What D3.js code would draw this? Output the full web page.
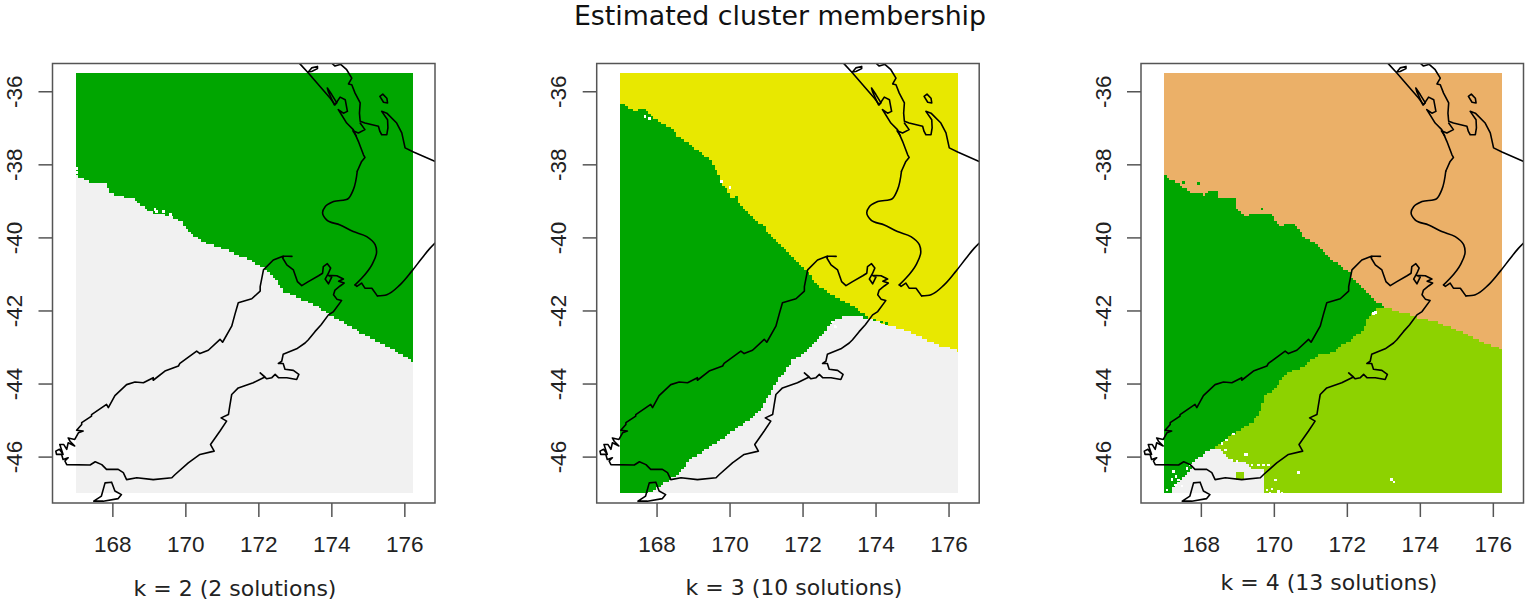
<!DOCTYPE html>
<html><head><meta charset="utf-8">
<script src="https://cdn.jsdelivr.net/npm/d3@7"></script>
<style>html,body{margin:0;padding:0;background:#fff;overflow:hidden}svg{display:block}</style>
</head><body><svg id="c" width="1535" height="610"></svg>
<script>
// ---------- text ----------
const chartTitle = "Estimated cluster membership";
const panelLabels = ["k = 2 (2 solutions)", "k = 3 (10 solutions)", "k = 4 (13 solutions)"];
const lonTicks = [168, 170, 172, 174, 176];
const latTicks = [-36, -38, -40, -42, -44, -46];

// ---------- coastline (lon, lat) ----------
const coastNorthWest = [[173.05,-35.15],[173.14,-35.25],[173.37,-35.50],[173.69,-35.87],[173.97,-36.19],[174.10,-36.37],[174.24,-36.16],[174.38,-36.23],[174.44,-36.55],[174.33,-36.60],[174.19,-36.50],[174.42,-36.87],[174.60,-37.05],[174.74,-37.37],[174.88,-37.74],[174.92,-37.81],[174.83,-37.92],[174.71,-38.19]];
const coastTaranaki = [[174.71,-38.19],[174.60,-38.70],[174.47,-38.93],[174.06,-39.02],[173.83,-39.16],[173.76,-39.32],[173.87,-39.52],[174.24,-39.66],[174.60,-39.84],[174.97,-39.98],[175.20,-40.20],[175.24,-40.39],[175.11,-40.75],[174.83,-41.12],[174.65,-41.30]];
const coastWellington = [[174.65,-41.30],[174.70,-41.34],[174.83,-41.25],[174.92,-41.39],[175.11,-41.39],[175.26,-41.60]];
const coastWairarapa = [[175.26,-41.60],[175.52,-41.57],[175.88,-41.30],[176.20,-40.93],[176.48,-40.57],[176.70,-40.30],[176.95,-40.05]];
const coastNorthEast = [[174.15,-35.10],[174.24,-35.25],[174.42,-35.41],[174.56,-35.64],[174.47,-35.80],[174.56,-35.82],[174.65,-36.05],[174.79,-36.32],[174.77,-36.60],[174.79,-36.82],[174.92,-36.87],[175.29,-36.96],[175.33,-37.10],[175.38,-37.19],[175.52,-37.19],[175.55,-37.00],[175.54,-36.78],[175.38,-36.55],[175.52,-36.60],[175.79,-36.87],[175.93,-37.14],[176.02,-37.55],[176.25,-37.66],[176.95,-37.97]];
const firthInlet = [[174.79,-36.87],[174.92,-37.05],[174.74,-37.14],[174.59,-37.08],[174.68,-37.22]];
const harbourSpike = [[173.89,-35.91],[174.01,-36.09],[174.15,-36.32],[174.08,-36.37],[173.92,-36.02],[173.89,-35.91]];
const islandNorthTip = [[173.37,-35.47],[173.46,-35.36],[173.62,-35.32],[173.62,-35.38],[173.46,-35.46],[173.37,-35.47]];
const islandBarrier = [[175.33,-36.14],[175.41,-36.08],[175.52,-36.19],[175.54,-36.32],[175.43,-36.30],[175.33,-36.14]];
const islandTopLoop = [[173.98,-35.20],[174.10,-35.31],[174.24,-35.27]];
const southIsland = [[172.92,-40.52],[172.69,-40.51],[172.67,-40.57],[172.78,-40.75],[172.96,-40.89],[173.07,-41.21],[173.19,-41.32],[173.37,-41.21],[173.65,-41.05],[173.76,-40.98],[173.78,-40.80],[173.89,-40.72],[173.98,-40.84],[173.92,-40.98],[173.83,-41.14],[173.92,-41.27],[174.01,-41.09],[173.90,-41.04],[174.15,-41.05],[174.33,-41.14],[174.20,-41.20],[174.35,-41.25],[174.24,-41.33],[174.10,-41.44],[174.06,-41.57],[174.15,-41.69],[174.28,-41.73],[174.06,-42.03],[173.92,-42.12],[173.72,-42.39],[173.55,-42.58],[173.37,-42.80],[173.28,-42.89],[173.05,-43.05],[172.68,-43.20],[172.64,-43.39],[172.55,-43.45],[172.68,-43.45],[172.73,-43.61],[172.96,-43.64],[173.11,-43.75],[173.05,-43.89],[172.78,-43.84],[172.55,-43.84],[172.46,-43.75],[172.37,-43.84],[172.23,-43.87],[172.05,-43.71],[172.18,-43.82],[171.86,-43.98],[171.45,-44.12],[171.27,-44.30],[171.22,-44.60],[171.18,-44.85],[170.98,-44.94],[171.13,-45.03],[170.95,-45.30],[170.69,-45.67],[170.79,-45.85],[170.40,-45.94],[170.08,-46.17],[169.72,-46.49],[169.63,-46.58],[169.12,-46.63],[168.67,-46.58],[168.39,-46.63],[168.30,-46.44],[168.16,-46.35],[167.84,-46.35],[167.71,-46.22],[167.53,-46.14],[167.39,-46.23],[166.75,-46.22],[166.70,-46.12],[166.79,-46.03],[166.65,-46.08],[166.61,-45.94],[166.47,-45.94],[166.45,-45.85],[166.55,-45.80],[166.65,-45.94],[166.56,-45.67],[166.67,-45.67],[166.75,-45.80],[166.79,-45.62],[166.97,-45.71],[166.84,-45.58],[166.79,-45.49],[166.97,-45.53],[167.07,-45.35],[167.20,-45.30],[167.02,-45.28],[167.16,-45.12],[167.16,-45.07],[167.43,-44.89],[167.43,-44.85],[167.84,-44.57],[167.89,-44.66],[168.07,-44.33],[168.39,-44.03],[168.62,-43.96],[168.85,-43.98],[169.12,-43.84],[169.12,-43.91],[169.44,-43.66],[169.81,-43.52],[169.85,-43.45],[170.31,-43.11],[170.40,-43.18],[170.63,-43.09],[170.95,-42.79],[171.02,-42.87],[171.27,-42.43],[171.36,-42.10],[171.45,-41.79],[171.82,-41.68],[172.05,-41.47],[172.05,-41.35],[172.14,-40.89],[172.41,-40.62],[172.69,-40.51]];
const stewartIsland = [[167.49,-47.22],[167.70,-47.08],[167.80,-46.72],[167.98,-46.70],[168.07,-46.94],[168.25,-47.04],[168.16,-47.15],[167.75,-47.22],[167.49,-47.22]];

// ---------- cluster boundaries (lon, lat) ----------
const k2Edge = [[166.9,-38.00],[167.0,-38.03],[167.03,-38.29],[167.16,-38.38],[167.32,-38.47],[167.80,-38.52],[167.95,-38.77],[168.21,-38.88],[168.53,-38.93],[168.85,-39.16],[169.12,-39.34],[169.58,-39.40],[169.90,-39.57],[170.08,-39.80],[170.40,-40.07],[170.86,-40.27],[171.13,-40.34],[171.41,-40.48],[171.68,-40.57],[172.14,-40.84],[172.41,-41.07],[172.68,-41.48],[173.14,-41.67],[173.60,-41.89],[174.05,-42.17],[174.60,-42.49],[175.06,-42.75],[175.70,-43.07],[176.4,-43.50]];
const k3NorthEdge = [[166.9,-36.27],[167.0,-36.31],[167.18,-36.42],[167.40,-36.56],[167.63,-36.47],[167.80,-36.58],[167.95,-36.74],[168.14,-36.88],[168.37,-36.97],[168.55,-37.20],[168.82,-37.38],[169.10,-37.61],[169.42,-37.83],[169.60,-38.06],[169.70,-38.34],[169.87,-38.61],[170.05,-38.97],[170.19,-38.84],[170.28,-39.11],[170.55,-39.34],[170.83,-39.61],[171.20,-39.98],[171.56,-40.39],[172.02,-40.80],[172.38,-41.26],[172.84,-41.62],[173.48,-41.94],[173.80,-42.19],[174.21,-42.35]];
const k3EastEdge = [[174.21,-42.36],[174.67,-42.49],[175.30,-42.75],[175.67,-42.93],[176.4,-43.13]];
const k3SouthEdge = [[174.21,-42.36],[173.80,-42.22],[173.39,-42.12],[173.11,-42.17],[172.89,-42.25],[172.70,-42.47],[172.52,-42.70],[172.29,-42.93],[172.02,-43.20],[171.74,-43.34],[171.56,-43.61],[171.29,-43.98],[171.06,-44.34],[170.92,-44.62],[170.65,-44.94],[170.19,-45.21],[169.83,-45.49],[169.37,-45.80],[168.91,-46.08],[168.64,-46.44],[168.37,-46.63],[168.09,-46.81],[167.68,-47.10]];
const k4NorthEdge = [[166.9,-38.30],[167.0,-38.30],[167.21,-38.43],[167.48,-38.59],[167.75,-38.77],[168.12,-38.84],[168.23,-38.72],[168.44,-38.75],[168.48,-38.93],[168.76,-38.97],[168.92,-38.86],[168.94,-39.16],[169.21,-39.41],[169.62,-39.32],[169.94,-39.36],[170.13,-39.69],[170.49,-39.63],[170.72,-39.80],[170.86,-40.02],[171.22,-40.21],[171.59,-40.62],[172.05,-40.94],[172.23,-41.21],[172.59,-41.53],[172.87,-41.80],[173.03,-41.91]];
const k4EastEdge = [[173.03,-41.91],[173.87,-42.17],[174.42,-42.30],[175.29,-42.66],[175.74,-42.89],[176.4,-43.10]];
const k4MiddleEdge = [[173.03,-41.91],[172.78,-41.97],[172.59,-42.20],[172.41,-42.57],[172.18,-42.75],[171.82,-42.98],[171.54,-43.20],[171.18,-43.23],[170.91,-43.48],[170.63,-43.61],[170.31,-43.75],[170.04,-44.12],[169.76,-44.34],[169.63,-44.71],[169.44,-45.07],[169.08,-45.26],[168.80,-45.44],[168.58,-45.62],[168.39,-45.76]];
const k4GrayPatch = [[168.39,-45.76],[168.58,-45.85],[168.71,-46.03],[168.99,-46.17],[169.25,-46.17],[169.35,-46.31],[169.72,-46.38],[169.74,-47.10],[167.16,-47.10],[167.25,-46.81],[167.53,-46.53],[167.75,-46.31],[167.80,-46.12],[168.12,-45.90]];
const k4GreenIslet = [[168.99,-46.40],[169.17,-46.40],[169.17,-46.63],[168.99,-46.63]];

// ---------- isolated cells (lon, lat) ----------
const k2White = [[167.02,-38.11],[167.02,-38.23],[169.17,-39.23],[169.21,-39.29],[169.40,-39.29],[169.60,-39.38]];
const k3White = [[167.68,-36.69],[167.80,-36.74],[169.78,-38.47],[170.01,-38.63],[172.89,-42.44],[172.82,-42.32],[172.91,-42.45]];
const k3Green = [[174.16,-42.32],[174.30,-42.36]];
const k4White = [[168.58,-45.64],[168.71,-45.54],[168.89,-45.38],[168.67,-45.82],[168.85,-46.09],[168.99,-46.14],[169.21,-45.95],[169.40,-46.23],[169.58,-46.23],[169.72,-46.23],[169.85,-46.23],[169.67,-46.47],[170.04,-46.64],[167.25,-46.41],[167.32,-46.55],[167.39,-46.64],[167.21,-46.62],[167.48,-46.80],[167.30,-46.78],[167.07,-46.91],[167.62,-46.32],[167.71,-46.23],[169.81,-46.91],[169.95,-46.89],[170.13,-46.96],[170.22,-47.00],[169.90,-47.00],[173.23,-46.63],[173.29,-46.70],[172.78,-42.06],[170.68,-46.44],[169.26,-45.94],[172.73,-42.09]];
const k4Green = [[167.94,-38.52],[169.67,-39.22],[168.95,-39.25],[167.52,-38.50]];

// ---------- colours ----------
const colDark = "#00a600", colYellow = "#e8e800", colOrange = "#ebb068", colLight = "#8dd200", colGray = "#f1f1f1";

// ---------- build layers: last matching polygon wins ----------
const W = 166.9, E = 176.4, S = -47.1;
const k2Layers = [
  {fill: colGray, poly: [...k2Edge, [E,S], [W,S]]}
];
const k3Layers = [
  {fill: colGray, poly: [...k3EastEdge, [E,S], [167.68,S], ...k3SouthEdge.slice().reverse()]},
  {fill: colDark, poly: [...k3NorthEdge, ...k3SouthEdge, [W,S]]}
];
const k4Layers = [
  {fill: colDark, poly: [...k4NorthEdge, ...k4MiddleEdge, [167.16,S], [W,S]]},
  {fill: colLight, poly: [...k4EastEdge, [E,S], [167.16,S], ...k4MiddleEdge.slice().reverse()]},
  {fill: colGray, poly: k4GrayPatch},
  {fill: colLight, poly: k4GreenIslet}
];
const panels = [
  {dx: 0,      base: colDark,   layers: k2Layers, dots: [{fill:"#fff", pts:k2White}]},
  {dx: 544.2,  base: colYellow, layers: k3Layers, dots: [{fill:"#fff", pts:k3White},{fill:colDark, pts:k3Green}]},
  {dx: 1088.5, base: colOrange, layers: k4Layers, dots: [{fill:"#fff", pts:k4White},{fill:colDark, pts:k4Green}]}
];
const labelPos = [[235,596],[794,595],[1329,590]];

// ---------- drawing ----------
const svg = d3.select("#c");
const defs = svg.append("defs");
defs.append("filter").attr("id","soft").append("feGaussianBlur").attr("stdDeviation",0.5);
svg.append("text").attr("x",780).attr("y",24.9).attr("text-anchor","middle")
  .attr("font-family","'DejaVu Sans'").attr("font-size",26.8).attr("fill","#111").text(chartTitle);

const cell = 0.07, lonMin = 167, lonMax = 176.25, latMax = -35.5, latMin = -47;
const lonCells = d3.range(lonMin, lonMax, cell), latCells = d3.range(latMax, latMin, -cell);
const coastAngular = [coastNorthWest, coastWellington, coastNorthEast, firthInlet, harbourSpike, islandNorthTip, islandBarrier, islandTopLoop, southIsland, stewartIsland];
const coastSmooth = [coastTaranaki, coastWairarapa];

panels.forEach((p,i) => {
  const x = d3.scaleLinear().domain([166.36,176.84]).range([52.5+p.dx, 435+p.dx]);
  const y = d3.scaleLinear().domain([-35.24,-47.27]).range([63.5, 503]);
  const g = svg.append("g");
  const raster = g.append("g").attr("filter","url(#soft)");

  // raster of cluster membership, merged into runs per row
  const paths = new Map();
  latCells.forEach(lat => {
    const yc = lat - cell/2;
    const lat1 = Math.max(lat - cell, latMin);
    let runFill = null, runStart = lonMin;
    const flush = end => {
      const d = `M${x(runStart)},${y(lat)}H${x(end)}V${y(lat1)}H${x(runStart)}Z`;
      paths.set(runFill, (paths.get(runFill)||"") + d);
    };
    lonCells.forEach(lon => {
      const pt = [lon + cell/2, yc];
      let f = p.base;
      for (let k = p.layers.length-1; k >= 0; k--) {
        if (d3.polygonContains(p.layers[k].poly, pt)) { f = p.layers[k].fill; break; }
      }
      if (f !== runFill) { if (runFill) flush(lon); runFill = f; runStart = lon; }
    });
    flush(lonMax);
  });
  raster.selectAll("path.r").data([...paths]).join("path").attr("class","r")
    .attr("d",d=>d[1]).attr("fill",d=>d[0]).attr("shape-rendering","crispEdges");

  p.dots.forEach(dset => {
    raster.selectAll(null).data(dset.pts).join("rect")
      .attr("x",d=>x(d[0]-0.035)).attr("y",d=>y(d[1]+0.035))
      .attr("width",x(0.07+166.36)-x(166.36)).attr("height",y(-35.24-0.07)-y(-35.24))
      .attr("fill",dset.fill).attr("shape-rendering","crispEdges");
  });

  // coastline, clipped to the plot box
  const clipId = "clip"+i;
  defs.append("clipPath").attr("id",clipId).append("rect")
    .attr("x",x.range()[0]).attr("y",y.range()[0])
    .attr("width",x.range()[1]-x.range()[0]).attr("height",y.range()[1]-y.range()[0]);
  const lineA = d3.line().x(d=>x(d[0])).y(d=>y(d[1]));
  const lineS = d3.line().x(d=>x(d[0])).y(d=>y(d[1])).curve(d3.curveCatmullRom.alpha(1));
  const coastG = g.append("g").attr("clip-path",`url(#${clipId})`)
    .attr("fill","none").attr("stroke","#000").attr("stroke-width",1.6).attr("stroke-linejoin","round").attr("stroke-linecap","round");
  coastG.selectAll(null).data(coastAngular).join("path").attr("d",lineA);
  coastG.selectAll(null).data(coastSmooth).join("path").attr("d",lineS);

  // box
  g.append("rect").attr("x",x.range()[0]).attr("y",y.range()[0])
    .attr("width",x.range()[1]-x.range()[0]).attr("height",y.range()[1]-y.range()[0])
    .attr("fill","none").attr("stroke","#555").attr("stroke-width",1.5);

  // axes
  const ax = g.append("g").attr("transform",`translate(0,${y.range()[1]})`)
    .call(d3.axisBottom(x).tickValues(lonTicks).tickFormat(String).tickSize(14).tickPadding(19.5));
  ax.select(".domain").remove();
  ax.selectAll("line").attr("stroke","#555").attr("stroke-width",1.5);
  ax.selectAll("text").attr("font-family","'Liberation Sans'").attr("font-size",22.5).attr("fill","#222");

  const ay = g.append("g").attr("transform",`translate(${x.range()[0]},0)`)
    .call(d3.axisLeft(y).tickValues(latTicks).tickFormat(String).tickSize(14));
  ay.select(".domain").remove();
  ay.selectAll("line").attr("stroke","#555").attr("stroke-width",1.5);
  ay.selectAll("text").attr("font-family","'Liberation Sans'").attr("font-size",22.5).attr("fill","#222")
    .attr("transform","rotate(-90)").attr("x",0).attr("y",-30.5).attr("dy",0).attr("text-anchor","middle");

  svg.append("text").attr("x",labelPos[i][0]).attr("y",labelPos[i][1]).attr("text-anchor","middle")
    .attr("font-family","'DejaVu Sans'").attr("font-size",22).attr("fill","#222").text(panelLabels[i]);
});
</script></body></html>
